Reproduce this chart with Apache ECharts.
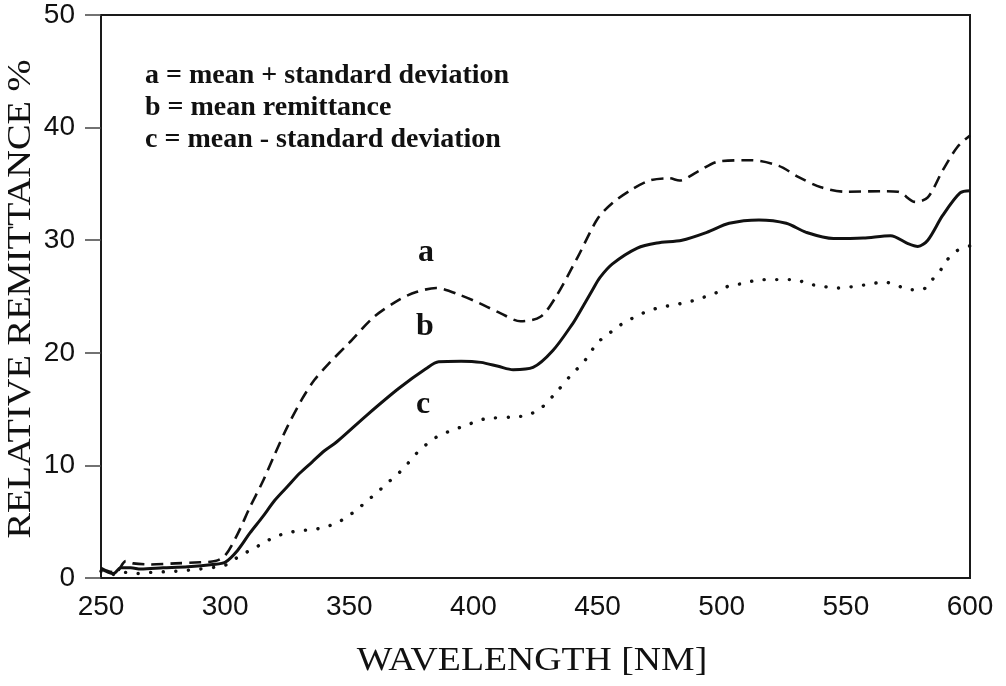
<!DOCTYPE html>
<html>
<head>
<meta charset="utf-8">
<script src="https://cdn.jsdelivr.net/npm/echarts@6/dist/echarts.min.js"></script>
<style>html,body{margin:0;padding:0;background:#fff}#c{width:1006px;height:686px}</style>
</head>
<body>
<div id="c"></div>
<script>
// ---- data ----
const waveA = [250,253,256,260,263,270,280,290,296,300,305,310,315,320,325,331,336,342,350,360,370,377,385,395,403,411,419,427,433,442,450,456,463,471,479,483,490,499,512,523,531,540,550,564,571,578,583,589,595,600];
const remitA = [0.9,0.6,0.5,1.5,1.3,1.2,1.3,1.4,1.5,2.0,3.9,6.3,8.5,11.0,13.4,15.9,17.6,19.1,20.9,23.2,24.7,25.4,25.75,25.1,24.35,23.5,22.8,23.2,24.9,28.5,31.9,33.3,34.4,35.3,35.5,35.3,36.05,37.0,37.1,36.6,35.6,34.7,34.3,34.35,34.3,33.4,33.8,36.2,38.3,39.3];

const waveB = [250,253,255,258,262,266,275,285,295,300,305,310,315,320,325,330,335,340,345,357,370,381,386,395,403,410,416,424,432,440,443,448,451,456,466,474,484,494,503,515,526,534,545,557,568,575,579,583,589,596,600];
const remitB = [0.8,0.5,0.4,0.9,0.9,0.8,0.9,1.0,1.2,1.4,2.45,4.0,5.4,6.9,8.1,9.3,10.3,11.3,12.1,14.45,16.85,18.6,19.2,19.25,19.15,18.8,18.5,18.7,20.2,22.6,23.7,25.6,26.7,27.9,29.3,29.75,30.0,30.7,31.5,31.8,31.5,30.7,30.15,30.2,30.4,29.7,29.45,30.0,32.2,34.2,34.4];

const waveC = [250,253,256,260,265,270,280,290,297,302,305,310,315,320,325,330,335,340,345.6,350,354,358,362,366,370,373.5,377,381,385,390,395,400,405,416,421.5,427,433,440,444,450,454,458,463,468,473,478,483,488,493,498,503,508.5,514,519,524,529.5,535,540,545,550,555,560,565,570.5,575.5,580.6,584.6,588,591,595,600];
const remitC = [0.6,0.4,0.3,0.5,0.4,0.5,0.6,0.8,1.0,1.3,1.85,2.45,3.05,3.65,4.0,4.2,4.3,4.5,4.97,5.57,6.25,7.0,7.76,8.56,9.33,10.15,11.05,11.85,12.5,13.0,13.4,13.8,14.15,14.3,14.45,15.05,16.4,18.2,19.05,20.9,21.6,22.3,22.95,23.5,23.9,24.15,24.35,24.6,24.95,25.35,25.95,26.15,26.45,26.5,26.5,26.5,26.1,25.95,25.75,25.8,25.95,26.1,26.3,26.0,25.6,25.6,26.45,27.3,28.3,29.1,29.5];

const xTicks = [250,300,350,400,450,500,550,600];
const yTicks = [0,10,20,30,40,50];

const legendLines = ['a = mean + standard deviation','b = mean remittance','c = mean - standard deviation'];
const curveLabels = ['a','b','c'];
const xTitle = 'WAVELENGTH [NM]';
const yTitle = 'RELATIVE REMITTANCE %';

// ---- chart ----
const zip = (xs, ys) => xs.map((x, i) => [x, ys[i]]);
const chart = echarts.init(document.getElementById('c'), null, {renderer: 'canvas'});
const serif = '"Liberation Serif","DejaVu Serif",serif';
const sans = '"Liberation Sans",Arial,sans-serif';

chart.setOption({
  animation: false,
  backgroundColor: '#fff',
  grid: {left: 101, right: 36, top: 15, bottom: 108, show: true, borderColor: '#1a1a1a', borderWidth: 2, outerBoundsMode: 'none', containLabel: false},
  xAxis: {
    type: 'value', min: xTicks[0], max: xTicks[xTicks.length-1], interval: 50,
    axisLine: {show: true, lineStyle: {color: '#1a1a1a', width: 2}},
    axisTick: {show: false},
    splitLine: {show: false},
    axisLabel: {fontSize: 28, color: '#111', fontFamily: sans, margin: 15}
  },
  yAxis: {
    type: 'value', min: yTicks[0], max: yTicks[yTicks.length-1], interval: 10,
    axisLine: {show: true, lineStyle: {color: '#1a1a1a', width: 2}},
    axisTick: {show: true, inside: false, length: 16, lineStyle: {color: '#444', width: 1.5}},
    splitLine: {show: false},
    axisLabel: {fontSize: 28, color: '#111', fontFamily: sans, margin: 26}
  },
  series: [
    {type: 'line', name: 'a', data: zip(waveA, remitA), smooth: 0.3, symbol: 'none',
     lineStyle: {color: '#111', width: 2.6, type: [12, 7]}},
    {type: 'line', name: 'b', data: zip(waveB, remitB), smooth: 0.3, symbol: 'none',
     lineStyle: {color: '#111', width: 3}},
    {type: 'line', name: 'c', data: zip(waveC, remitC), smooth: 0.3, symbol: 'none',
     lineStyle: {color: '#111', width: 3.4, type: [0.1, 12.5], cap: 'round'}}
  ],
  graphic: [
    {type: 'text', x: 21, y: 299, rotation: Math.PI/2, scaleX: 1.13,
     style: {text: yTitle, font: '34px ' + serif, fill: '#111', textAlign: 'center', textVerticalAlign: 'middle'}},
    {type: 'text', x: 532, y: 661, scaleX: 1.11,
     style: {text: xTitle, font: '34px ' + serif, fill: '#111', textAlign: 'center', textVerticalAlign: 'middle'}},
    {type: 'text', x: 145, y: 76, style: {text: legendLines[0], font: 'bold 28px ' + serif, fill: '#111', textVerticalAlign: 'middle'}},
    {type: 'text', x: 145, y: 108, style: {text: legendLines[1], font: 'bold 28px ' + serif, fill: '#111', textVerticalAlign: 'middle'}},
    {type: 'text', x: 145, y: 139.5, style: {text: legendLines[2], font: 'bold 28px ' + serif, fill: '#111', textVerticalAlign: 'middle'}},
    {type: 'text', x: 426, y: 253, style: {text: curveLabels[0], font: 'bold 32px ' + serif, fill: '#111', textAlign: 'center', textVerticalAlign: 'middle'}},
    {type: 'text', x: 425, y: 327, style: {text: curveLabels[1], font: 'bold 32px ' + serif, fill: '#111', textAlign: 'center', textVerticalAlign: 'middle'}},
    {type: 'text', x: 423, y: 405, style: {text: curveLabels[2], font: 'bold 32px ' + serif, fill: '#111', textAlign: 'center', textVerticalAlign: 'middle'}}
  ]
});
</script>
</body>
</html>
